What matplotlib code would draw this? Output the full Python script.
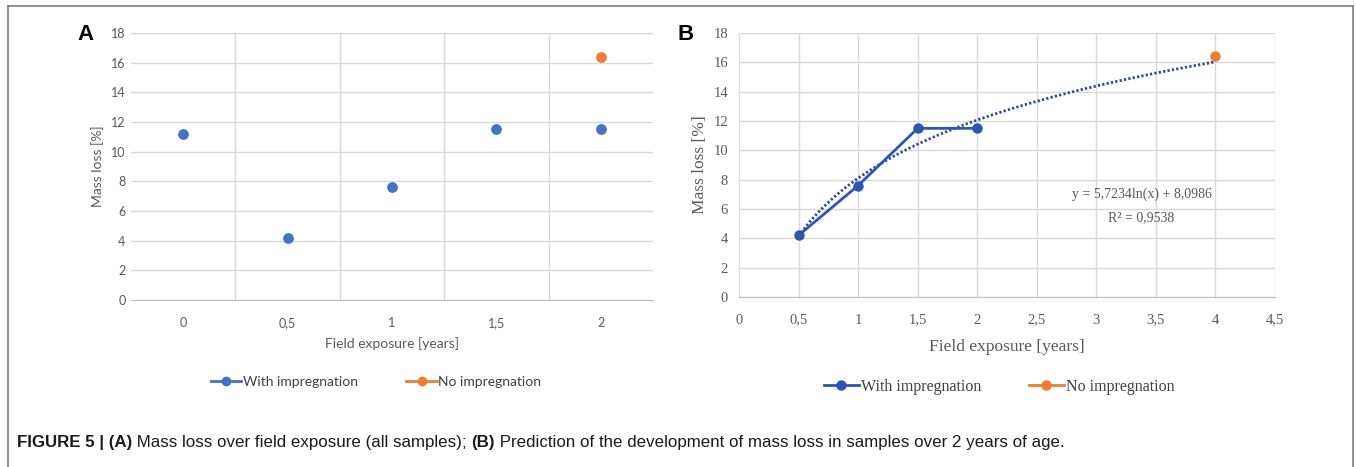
import numpy as np
import matplotlib
matplotlib.use('Agg')
import matplotlib.pyplot as plt
from matplotlib.lines import Line2D

# panel A: categorical field exposure
cats_a = ['0', '0,5', '1', '1,5', '2']
with_imp_a = [11.2, 4.2, 7.6, 11.5, 11.5]
no_imp_a_cat = 4
no_imp_a = 16.4

# panel B: numeric field exposure
x_b = [0.5, 1.0, 1.5, 2.0]
with_imp_b = [4.2, 7.6, 11.5, 11.5]
x_no_imp_b = [4.0]
no_imp_b = [16.4]
# log trendline coefficients as printed on the chart
trend_a, trend_b, trend_r2 = 5.7234, 8.0986, 0.9538

y_ticks = list(range(0, 19, 2))
x_ticks_b = [0, 0.5, 1, 1.5, 2, 2.5, 3, 3.5, 4, 4.5]

BLUE = '#4472C4'
BLUE_B = '#2F55B0'
NAVY = '#2B4C8C'
ORANGE = '#ED7D31'
GRID = '#D9D9D9'

W, H = 1356, 467
fig = plt.figure(figsize=(W / 100, H / 100), dpi=100)

def fx(px): return px / W
def fy(py): return 1 - py / H

# ---- panel A ----
axA = fig.add_axes([fx(131), fy(300), fx(653 - 131), (300 - 33) / H])
xa = np.arange(len(cats_a))
axA.scatter(xa, with_imp_a, s=45, color=BLUE, zorder=3)
axA.scatter([no_imp_a_cat], [no_imp_a], s=45, color=ORANGE, zorder=3)
axA.set_xlim(-0.5, len(cats_a) - 0.5)
axA.set_ylim(0, 18)
axA.set_yticks(y_ticks)
axA.set_xticks(xa)
axA.set_xticklabels(cats_a)
axA.grid(False)
for y in y_ticks:
    axA.axhline(y, color=GRID, lw=1, zorder=0)
for x in np.arange(0.5, len(cats_a) - 0.5, 1):
    axA.axvline(x, color=GRID, lw=1, zorder=0)
for s in ['left', 'right', 'top']:
    axA.spines[s].set_visible(False)
axA.spines['bottom'].set_color('#BFBFBF')
axA.tick_params(which='both', length=0, labelsize=9, colors='#595959', labelfontfamily='Lato')
axA.tick_params(axis='x', pad=12)
axA.tick_params(axis='y', pad=4)
axA.set_ylabel('Mass loss [%]', fontsize=10, color='#595959', family='Lato', labelpad=5)
axA.set_xlabel('Field exposure [years]', fontsize=10, color='#595959', family='Lato', labelpad=6)
hA = [Line2D([0], [0], color=BLUE, marker='o', ms=6, lw=2, label='With impregnation'),
      Line2D([0], [0], color=ORANGE, marker='o', ms=6, lw=2, label='No impregnation')]
fig.legend(handles=hA, loc='center', bbox_to_anchor=(fx(376), fy(382)), ncol=2, frameon=False,
           prop={'family': 'Lato', 'size': 10}, labelcolor='#404040', handlelength=2.2,
           handletextpad=0.1, columnspacing=3.5)
fig.text(fx(85), fy(34), 'A', fontsize=16, fontweight='bold', ha='center', va='center',
         family='Liberation Sans')

# ---- panel B ----
axB = fig.add_axes([fx(739), fy(297), fx(1275 - 739), (297 - 33) / H])
xt = np.linspace(min(x_b), max(x_no_imp_b), 200)
axB.plot(xt, trend_a * np.log(xt) + trend_b, color=NAVY, lw=2, ls=(0, (0.8, 0.8)), zorder=2)
axB.plot(x_b, with_imp_b, color=BLUE_B, lw=2, marker='o', ms=6.5, zorder=3)
axB.plot(x_no_imp_b, no_imp_b, color=ORANGE, lw=0, marker='o', ms=6.5, zorder=3)
axB.set_xlim(0, 4.5)
axB.set_ylim(0, 18)
axB.set_yticks(y_ticks)
axB.set_xticks(x_ticks_b)
axB.set_xticklabels([('%g' % v).replace('.', ',') for v in x_ticks_b])
axB.grid(True, color=GRID, lw=1, zorder=0)
axB.set_axisbelow(True)
for s in ['left', 'right', 'top']:
    axB.spines[s].set_visible(False)
axB.spines['bottom'].set_color('#BFBFBF')
axB.tick_params(which='both', length=0, labelsize=10.5, colors='#595959', labelfontfamily='Liberation Serif')
axB.tick_params(axis='x', pad=12)
axB.tick_params(axis='y', pad=8)
axB.set_ylabel('Mass loss [%]', fontsize=12.5, color='#595959', family='Liberation Serif', labelpad=4)
axB.set_xlabel('Field exposure [years]', fontsize=12.5, color='#595959', family='Liberation Serif', labelpad=9)
axB.text(3.38, 7.0, 'y = %sln(x) + %s' % (str(trend_a).replace('.', ','), str(trend_b).replace('.', ',')),
         ha='center', va='center', fontsize=10, color='#595959', family='Liberation Serif')
axB.text(3.38, 5.4, 'R² = %s' % str(trend_r2).replace('.', ','),
         ha='center', va='center', fontsize=10, color='#595959', family='Liberation Serif')
hB = [Line2D([0], [0], color=BLUE_B, marker='o', ms=6.5, lw=2, label='With impregnation'),
      Line2D([0], [0], color=ORANGE, marker='o', ms=6.5, lw=2, label='No impregnation')]
fig.legend(handles=hB, loc='center', bbox_to_anchor=(fx(999), fy(387)), ncol=2, frameon=False,
           prop={'family': 'Liberation Serif', 'size': 11.5}, labelcolor='#404040', handlelength=2.2,
           handletextpad=0.1, columnspacing=3.0)
fig.text(fx(686), fy(34), 'B', fontsize=16, fontweight='bold', ha='center', va='center',
         family='Liberation Sans')

# ---- outer frame ----
for xs, ys in [([8, 8], [467, 6]), ([8, 1353], [6, 6]), ([1353, 1353], [6, 467])]:
    fig.add_artist(Line2D([fx(v) for v in xs], [fy(v) for v in ys], color='#7F7F7F', lw=1.2))

# ---- caption with mixed weights ----
parts = [('FIGURE 5 | (A)', 'bold'), (' Mass loss over field exposure (all samples); ', 'normal'),
         ('(B)', 'bold'), (' Prediction of the development of mass loss in samples over 2 years of age.', 'normal')]
renderer = fig.canvas.get_renderer()
xpos = fx(17)
for txt, wt in parts:
    t = fig.text(xpos, fy(443), txt, fontsize=12.2, fontweight=wt, family='Liberation Sans',
                 ha='left', va='center', color='#1a1a1a')
    bb = t.get_window_extent(renderer=renderer)
    xpos = bb.x1 / W

fig.savefig('out.png', dpi=100)
